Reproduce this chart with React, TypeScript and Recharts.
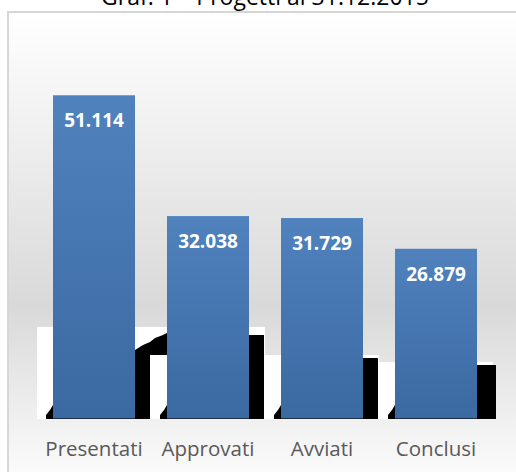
import { BarChart, Bar, XAxis, YAxis, LabelList } from 'recharts'

const categories = ['Presentati', 'Approvati', 'Avviati', 'Conclusi']
const progetti = [51114, 32038, 31729, 26879]
const title = 'Graf. 1 \u2013 Progetti al 31.12.2015'

const data = categories.map((name, i) => ({ name, value: progetti[i] }))

// rendering artifacts of the original picture (offsets above the baseline)
const whiteH = [92, 92, 64, 57]
const blackH = [69, 84, 61, 54]

const fmt = (v: number) => v.toLocaleString('it-IT')

function BarShape(props: any) {
  const { x, y, width, height, index } = props
  const b = y + height
  const r = x + width
  return (
    <g>
      <rect x={x - 16} y={b - whiteH[index]} width={width + 32} height={whiteH[index]} fill="#ffffff" />
      <rect x={r} y={b - blackH[index]} width={index === 3 ? 19 : 15} height={blackH[index]} fill="#000000" />
      {index === 1 && (
        <polygon
          fill="#000000"
          points={`${x - 32},${b - 69} ${x - 24},${b - 74} ${x - 17},${b - 77} ${x - 12},${b - 81} ${x - 4},${b - 84} ${x},${b - 86} ${x},${b - 64} ${x - 17},${b - 64} ${x - 17},${b - 69}`}
        />
      )}
      <polygon fill="#000000" points={`${x - 7},${b} ${x - 7},${b - 4} ${x - 3},${b - 9} ${x},${b - 14} ${x},${b}`} />
      <rect x={x} y={b - 1} width={width} height={1} fill="#1f2f45" />
      <rect x={x} y={y} width={width} height={height - 1} fill="url(#barGrad)" />
    </g>
  )
}

function ValueLabel(props: any) {
  const { x, y, width, value } = props
  return (
    <text
      x={x + width / 2}
      y={y + 25}
      textAnchor="middle"
      dominantBaseline="central"
      fill="#ffffff"
      fontWeight="bold"
      fontSize={19}
      fontFamily="'Open Sans', sans-serif"
    >
      {fmt(value)}
    </text>
  )
}

function CatTick(props: any) {
  const { x, y, payload } = props
  return (
    <text
      x={x}
      y={y + 21}
      textAnchor="middle"
      dominantBaseline="central"
      fill="#595959"
      fontSize={20.5}
      fontFamily="'Open Sans', sans-serif"
    >
      {payload.value}
    </text>
  )
}

export default function App() {
  return (
    <div style={{ position: 'absolute', left: 0, top: 0, width: 516, height: 472, overflow: 'hidden', background: '#ffffff' }}>
      <div
        style={{
          position: 'absolute',
          left: 7,
          top: 11,
          width: 530,
          height: 470,
          boxSizing: 'border-box',
          border: '2px solid #d6d6d6',
          background: 'linear-gradient(to bottom, #ffffff 0%, #d9d9d9 63%, #fcfcfc 100%)',
        }}
      />
      <svg style={{ position: 'absolute', left: 0, top: 0 }} width={516} height={20}>
        <text x={265} y={5} textAnchor="middle" fontSize={23} fill="#000000" fontFamily="'Open Sans', sans-serif">
          {title}
        </text>
      </svg>
      <div style={{ position: 'absolute', left: 0, top: 0 }}>
        <BarChart width={516} height={472} data={data} margin={{ top: 39, right: 23, bottom: 13, left: 37 }}>
          <defs>
            <linearGradient id="barGrad" x1="0" y1="0" x2="0" y2="1">
              <stop offset="0%" stopColor="#5082be" />
              <stop offset="100%" stopColor="#3b69a1" />
            </linearGradient>
          </defs>
          <YAxis hide domain={[0, 60000]} />
          <XAxis dataKey="name" axisLine={false} tickLine={false} height={40} tick={<CatTick />} interval={0} />
          <Bar dataKey="value" barSize={82} shape={<BarShape />} isAnimationActive={false}>
            <LabelList dataKey="value" content={<ValueLabel />} />
          </Bar>
        </BarChart>
      </div>
    </div>
  )
}
